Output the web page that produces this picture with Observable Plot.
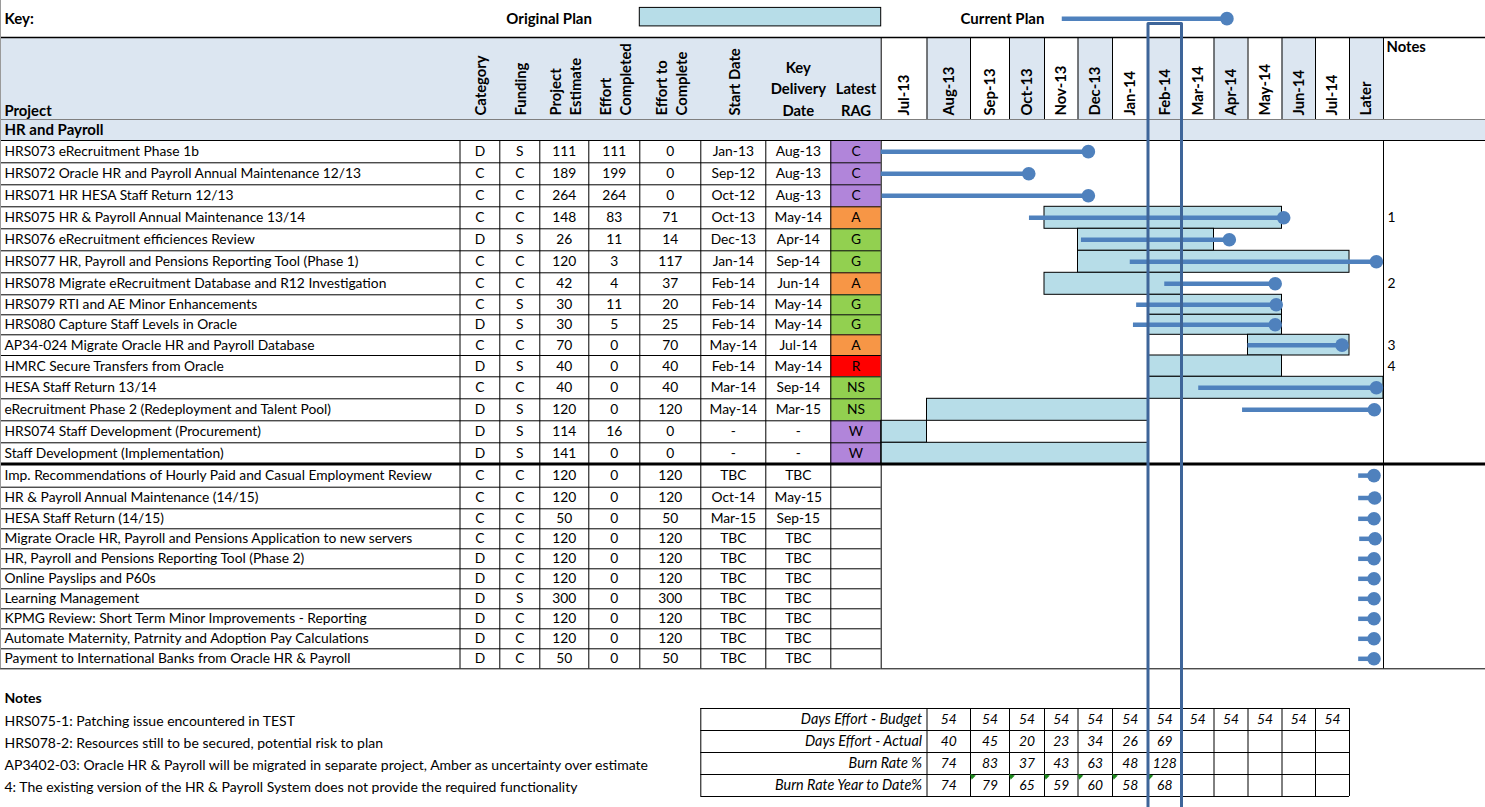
<!DOCTYPE html>
<html><head><meta charset="utf-8">
<script src="https://cdn.jsdelivr.net/npm/d3@7"></script>
<script src="https://cdn.jsdelivr.net/npm/@observablehq/plot@0.6"></script>
<style>
html,body{margin:0;padding:0;background:#fff;overflow:hidden}
#chart svg{display:block}
</style></head><body><div id="chart"></div>
<script>
// ---------------- DATA ----------------
const months = ["Jul-13","Aug-13","Sep-13","Oct-13","Nov-13","Dec-13","Jan-14","Feb-14","Mar-14","Apr-14","May-14","Jun-14","Jul-14","Later"];
const projects = [
 "HRS073 eRecruitment Phase 1b",
 "HRS072 Oracle HR and Payroll Annual Maintenance 12/13",
 "HRS071 HR HESA Staff Return 12/13",
 "HRS075 HR & Payroll Annual Maintenance 13/14",
 "HRS076 eRecruitment efficiences Review",
 "HRS077 HR, Payroll and Pensions Reporting Tool (Phase 1)",
 "HRS078 Migrate eRecruitment Database and R12 Investigation",
 "HRS079 RTI and AE Minor Enhancements",
 "HRS080 Capture Staff Levels in Oracle",
 "AP34-024 Migrate Oracle HR and Payroll Database",
 "HMRC Secure Transfers from Oracle",
 "HESA Staff Return 13/14",
 "eRecruitment Phase 2 (Redeployment and Talent Pool)",
 "HRS074 Staff Development (Procurement)",
 "Staff Development (Implementation)",
 "Imp. Recommendations of Hourly Paid and Casual Employment Review",
 "HR & Payroll Annual Maintenance (14/15)",
 "HESA Staff Return (14/15)",
 "Migrate Oracle HR, Payroll and Pensions Application to new servers",
 "HR, Payroll and Pensions Reporting Tool (Phase 2)",
 "Online Payslips and P60s",
 "Learning Management",
 "KPMG Review: Short Term Minor Improvements - Reporting",
 "Automate Maternity, Patrnity and Adoption Pay Calculations",
 "Payment to International Banks from Oracle HR & Payroll"
];
const category = ["D","C","C","C","D","C","C","C","D","C","D","C","D","D","D","C","C","C","C","D","D","D","D","D","D"];
const funding  = ["S","C","C","C","S","C","C","S","S","C","S","C","S","S","S","C","C","C","C","C","C","S","C","C","C"];
const estimate = [111,189,264,148,26,120,42,30,30,70,40,40,120,114,141,120,120,50,120,120,120,300,120,120,50];
const effortCompleted = [111,199,264,83,11,3,4,11,5,0,0,0,0,16,0,0,0,0,0,0,0,0,0,0,0];
const effortToComplete = [0,0,0,71,14,117,37,20,25,70,40,40,120,0,0,120,120,50,120,120,120,300,120,120,50];
const startDate = ["Jan-13","Sep-12","Oct-12","Oct-13","Dec-13","Jan-14","Feb-14","Feb-14","Feb-14","May-14","Feb-14","Mar-14","May-14","-","-","TBC","Oct-14","Mar-15","TBC","TBC","TBC","TBC","TBC","TBC","TBC"];
const keyDelivery = ["Aug-13","Aug-13","Aug-13","May-14","Apr-14","Sep-14","Jun-14","May-14","May-14","Jul-14","May-14","Sep-14","Mar-15","-","-","TBC","May-15","Sep-15","TBC","TBC","TBC","TBC","TBC","TBC","TBC"];
const rag = ["C","C","C","A","G","G","A","G","G","A","R","NS","NS","W","W","","","","","","","","","",""];
const notesRef = ["","","","1","","","2","","","3","4","","","","","","","","","","","","","",""];
// original plan (month index, Jul-13 = 0)
const planStart = [null,null,null,4,5,5,4,7,7,10,7,7,1,0,0,null,null,null,null,null,null,null,null,null,null];
const planEnd   = [null,null,null,11,9,13,8,11,11,13,11,14,7,1,7,null,null,null,null,null,null,null,null,null,null];
// current plan (month index)
const curStart = [0,0,0.02,3.57,5.1,6.5,7.5,6.68,6.59,10,null,8.53,9.84,null,null,13.27,13.27,13.27,13.3,13.27,13.27,13.27,13.27,13.27,13.27];
const curEnd   = [5.3,3.55,5.3,11.05,9.45,13.79,10.8,10.83,10.8,12.78,null,13.79,13.73,null,null,13.72,13.74,13.72,13.75,13.72,13.72,13.72,13.72,13.72,13.72];
// burn table
const burnLabels = ["Days Effort - Budget","Days Effort - Actual","Burn Rate %","Burn Rate Year to Date%"];
const budget = [54,54,54,54,54,54,54,54,54,54,54,54];
const actual = [40,45,20,23,34,26,69];
const burnRate = [74,83,37,43,63,48,128];
const burnYTD = [74,79,65,59,60,58,68];
const noteLines = [
 "HRS075-1: Patching issue encountered in TEST",
 "HRS078-2: Resources still to be secured, potential risk to plan",
 "AP3402-03: Oracle HR & Payroll will be migrated in separate project, Amber as uncertainty over estimate",
 "4: The existing version of the HR & Payroll System does not provide the required functionality"
];

// ---------------- LAYOUT ----------------
const colEdges = [0,459.5,499.3,539.3,588.3,639.3,700.3,765.3,830.3,880.7,926.5,970,1009,1044,1077.5,1112,1147.5,1181,1213.5,1247.5,1281.5,1315,1349,1383,1485];
const rowEdges = [0,37,119,140,162.3,184.3,206.3,228.3,250.3,272.3,294.3,314.3,334.3,355,376.3,398.3,420.3,442.3,463.5,486.7,508.3,528.3,548.3,568.3,588.3,608.3,628.3,648.3,668.3,688,708,730,752,774,796,807];
const M0 = 9;        // column index of first month
const NOTES_COL = 23;
const FIRST_ROW = 3;
const BURN_ROW = 30;
const BURN_COL = 10;
const ragColor = {C:"#b185da", W:"#b185da", A:"#f79646", G:"#92d050", NS:"#92d050", R:"#ff0000"};
const HDR = "#dce6f1", PLAN = "#b7dde8", LINE = "#4f81bd", TODAY = "#3e6599";
const FONT = "Lato, 'Open Sans', sans-serif";
const FS = 13.8, HFS = 14.8;

const table = projects.map((name, i) => ({
  name, row: FIRST_ROW + i, category: category[i], funding: funding[i],
  estimate: estimate[i], effortCompleted: effortCompleted[i], effortToComplete: effortToComplete[i],
  startDate: startDate[i], keyDelivery: keyDelivery[i], rag: rag[i], note: notesRef[i],
  planStart: planStart[i], planEnd: planEnd[i], curStart: curStart[i], curEnd: curEnd[i]
}));
const plans = table.filter(d => d.planStart != null);
const currents = table.filter(d => d.curStart != null);
const rags = table.filter(d => d.rag);

const cellCols = [["category",1],["funding",2],["estimate",3],["effortCompleted",4],["effortToComplete",5],["startDate",6],["keyDelivery",7],["rag",8]];
const rotHeaders = [["Category",1],["Funding",2],["Project\nEstimate",3],["Effort\nCompleted",4],["Effort to\nComplete",5],["Start Date",6]];
const monthHdr = months.map((m, i) => ({m, col: M0 + i}));

const burnSeries = [budget, actual, burnRate, burnYTD];
const burnCells = burnSeries.flatMap((s, r) => s.map((v, j) => ({v, col: BURN_COL + j, row: BURN_ROW + r})));
// small green indicator corners in the year-to-date row (cells 2..7)
const ytdFlags = burnYTD.slice(1).map((v, j) => ({col: BURN_COL + 1 + j, row: BURN_ROW + 3}));

// grid line specs (edge indices)
const hLines = [
  ...d3.range(FIRST_ROW, 29).map(r => ({y: r, x1: 0, x2: M0, w: 1, c: "#000"})),
  {y: 1, x1: 0, x2: 24, w: 1.3, c: "#000"},
  {y: 2, x1: 0, x2: 24, w: 1, c: "#7f7f7f"},
  {y: 3, x1: M0, x2: 24, w: 1, c: "#000"},
  {y: 18, x1: 0, x2: 24, w: 3, c: "#000"},
  {y: 28, x1: M0, x2: 24, w: 1, c: "#000"},
  ...d3.range(BURN_ROW, BURN_ROW + 5).map(r => ({y: r, x1: 6, x2: 22, w: 1, c: "#000"}))
];
const vLines = [
  ...d3.range(0, M0 + 1).map(c => ({x: c, y1: 3, y2: 28, w: 1, c: c === 0 ? "#9a9a9a" : "#000"})),
  {x: 0, y1: 0, y2: 3, w: 1, c: "#9a9a9a"},
  ...d3.range(M0, 24).map(c => ({x: c, y1: 1, y2: 2, w: 1, c: "#000"})),
  {x: NOTES_COL, y1: 3, y2: 28, w: 1, c: "#000"},
  ...[6, ...d3.range(BURN_COL, 23)].map(c => ({x: c, y1: BURN_ROW, y2: BURN_ROW + 4, w: 1, c: "#000"}))
];
// "today" marker around Feb-14
const today = [{x: M0 + 7, y: 35}, {x: M0 + 7, y: 0.62}, {x: M0 + 8, y: 0.62}, {x: M0 + 8, y: 35}];

const marks = [
  // backgrounds
  Plot.rect([{}], {x1: 0, x2: M0, y1: 1, y2: 2, fill: HDR}),
  Plot.rect(monthHdr.filter((d, i) => i % 2 === 1), {x1: d => d.col, x2: d => d.col + 1, y1: 1, y2: 2, fill: HDR}),
  Plot.rect([{}], {x1: 0, x2: 24, y1: 2, y2: 3, fill: HDR}),
  Plot.rect(rags, {x1: 8, x2: 9, y1: d => d.row, y2: d => d.row + 1, fill: d => ragColor[d.rag]}),
  // original plan bars
  Plot.rect(plans, {x1: d => M0 + d.planStart, x2: d => M0 + d.planEnd, y1: d => d.row, y2: d => d.row + 1, fill: PLAN, stroke: "#000", strokeWidth: 1}),
  // grid
  Plot.ruleY(hLines, {y: "y", x1: "x1", x2: "x2", stroke: "c", strokeWidth: "w"}),
  Plot.ruleX(vLines, {x: "x", y1: "y1", y2: "y2", stroke: "c", strokeWidth: "w"}),
  Plot.dot(ytdFlags, {x: d => d.col, y: d => d.row, dx: 2, dy: 2, r: 2.2, symbol: "triangle", rotate: -45, fill: "#1e8a1e"}),
  // current plan
  Plot.ruleY(currents, {y: d => d.row + 0.5, x1: d => M0 + d.curStart, x2: d => M0 + d.curEnd, stroke: LINE, strokeWidth: 4.5}),
  Plot.dot(currents, {x: d => M0 + d.curEnd, y: d => d.row + 0.5, r: 6.8, fill: LINE}),
  // key
  Plot.text(["Key:"], {x: 0, y: 0.5, dx: 4, text: d => d, textAnchor: "start", fontWeight: "bold", fontSize: 15}),
  Plot.text(["Original Plan"], {x: 3.19, y: 0.5, text: d => d, fontWeight: "bold", fontSize: 15}),
  Plot.rect([{}], {x1: 5, x2: 9, y1: 0.2, y2: 0.7, fill: PLAN, stroke: "#000", strokeWidth: 1}),
  Plot.text(["Current Plan"], {x: 11.82, y: 0.5, text: d => d, fontWeight: "bold", fontSize: 15}),
  Plot.ruleY([{}], {y: 0.49, x1: 13.53, x2: 18.38, stroke: LINE, strokeWidth: 4.5}),
  Plot.dot([{}], {x: 18.38, y: 0.49, r: 6.8, fill: LINE}),
  // header texts
  Plot.text(["Project"], {x: 0, y: 2, dx: 4, dy: -4, text: d => d, textAnchor: "start", lineAnchor: "bottom", fontWeight: "bold", fontSize: HFS}),
  Plot.text(rotHeaders, {x: d => d[1] + 0.5, y: 2, dy: -4, text: d => d[0], rotate: -90, textAnchor: "start", lineHeight: 1.35, fontWeight: "bold", fontSize: HFS}),
  Plot.text(["Key\nDelivery\nDate"], {x: 7.5, y: 2, dy: -4, text: d => d, lineAnchor: "bottom", lineHeight: 1.42, fontWeight: "bold", fontSize: HFS}),
  Plot.text(["Latest\nRAG"], {x: 8.5, y: 2, dy: -4, text: d => d, lineAnchor: "bottom", lineHeight: 1.42, fontWeight: "bold", fontSize: HFS}),
  Plot.text(monthHdr, {x: d => d.col + 0.5, y: 2, dy: -4, text: "m", rotate: -90, textAnchor: "start", fontWeight: "bold", fontSize: HFS}),
  Plot.text(["Notes"], {x: NOTES_COL, y: 1, dx: 3, dy: 4, text: d => d, textAnchor: "start", lineAnchor: "top", fontWeight: "bold", fontSize: HFS}),
  Plot.text(["HR and Payroll"], {x: 0, y: 2.5, dx: 4, text: d => d, textAnchor: "start", fontWeight: "bold", fontSize: 15}),
  // body texts
  Plot.text(table, {x: 0, y: d => d.row + 0.5, dx: 4, text: "name", textAnchor: "start", fontSize: FS}),
  ...cellCols.map(([k, c]) => Plot.text(table, {x: c + 0.5, y: d => d.row + 0.5, text: k, fontSize: FS})),
  Plot.text(table.filter(d => d.note), {x: NOTES_COL, y: d => d.row + 0.5, dx: 4, text: "note", textAnchor: "start", fontSize: FS}),
  // notes
  Plot.text(["Notes"], {x: 0, y: 29.5, dx: 4, text: d => d, textAnchor: "start", fontWeight: "bold", fontSize: 14}),
  Plot.text(noteLines, {x: 0, y: (d, i) => BURN_ROW + i + 0.5, dx: 4, dy: 2, text: d => d, textAnchor: "start", fontSize: 14}),
  // burn table
  Plot.text(burnLabels, {x: BURN_COL, y: (d, i) => BURN_ROW + i + 0.5, dx: -5, text: d => d, textAnchor: "end", fontStyle: "italic", fontSize: 14.4}),
  Plot.text(burnCells, {x: d => d.col + 0.5, y: d => d.row + 0.5, text: "v", fontStyle: "italic", fontSize: FS}),
  // today marker
  Plot.line(today, {x: "x", y: "y", stroke: TODAY, strokeWidth: 3})
];

const chart = Plot.plot({
  width: 1485, height: 807, margin: 0,
  x: {type: "linear", domain: d3.range(colEdges.length), range: colEdges, axis: null},
  y: {type: "linear", domain: d3.range(rowEdges.length), range: rowEdges, axis: null},
  style: {fontFamily: FONT, fontSize: "13px", background: "white", color: "black"},
  marks
});
document.getElementById("chart").appendChild(chart);
</script></body></html>
